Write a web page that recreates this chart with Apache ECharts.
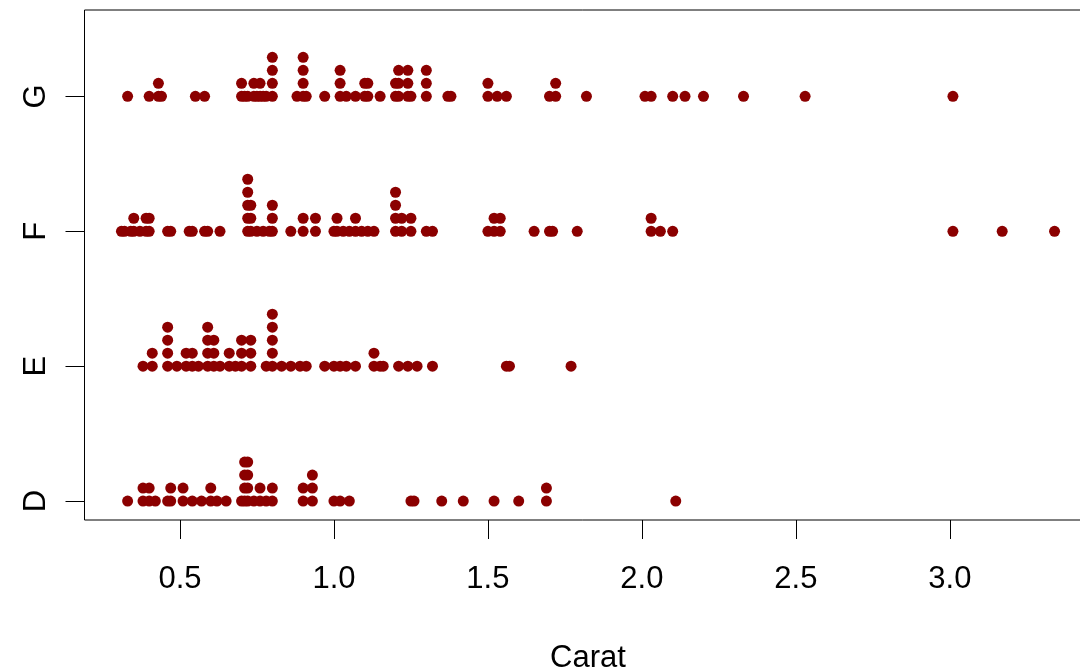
<!DOCTYPE html>
<html><head><meta charset="utf-8">
<script src="https://cdn.jsdelivr.net/npm/echarts@6/dist/echarts.min.js"></script>
<style>html,body{margin:0;padding:0;background:#fff}#c{width:1080px;height:671px}</style>
</head><body><div id="c"></div>
<script>
const categories = ['D', 'E', 'F', 'G'];
const xTicks = [0.5, 1.0, 1.5, 2.0, 2.5, 3.0];

const caratD = [0.33, 0.38, 0.38, 0.40, 0.40, 0.42, 0.46, 0.47, 0.47, 0.51, 0.51, 0.54, 0.57, 0.60, 0.60, 0.62, 0.65,
  0.70, 0.71, 0.71, 0.71, 0.71, 0.72, 0.72, 0.72, 0.72, 0.74, 0.76, 0.76, 0.78, 0.80, 0.80,
  0.90, 0.90, 0.93, 0.93, 0.93, 1.00, 1.02, 1.05, 1.25, 1.26, 1.35, 1.42, 1.52, 1.60, 1.69, 1.69, 2.11];

const caratE = [0.38, 0.41, 0.41, 0.46, 0.46, 0.46, 0.46, 0.49, 0.52, 0.52, 0.54, 0.54, 0.56,
  0.59, 0.59, 0.59, 0.59, 0.61, 0.61, 0.61, 0.63, 0.66, 0.66, 0.68, 0.70, 0.70, 0.70,
  0.73, 0.73, 0.73, 0.78, 0.80, 0.80, 0.80, 0.80, 0.80, 0.83, 0.86, 0.89, 0.91,
  0.97, 1.00, 1.02, 1.04, 1.07, 1.13, 1.13, 1.15, 1.16, 1.21, 1.24, 1.27, 1.32, 1.56, 1.57, 1.77];

const caratF = [0.31, 0.32, 0.34, 0.35, 0.35, 0.37, 0.39, 0.39, 0.40, 0.40, 0.46, 0.47,
  0.53, 0.54, 0.58, 0.59, 0.63,
  0.72, 0.72, 0.72, 0.72, 0.72, 0.73, 0.73, 0.73, 0.75, 0.77, 0.79, 0.80, 0.80, 0.80,
  0.86, 0.90, 0.90, 0.94, 0.94,
  1.00, 1.01, 1.01, 1.03, 1.05, 1.07, 1.07, 1.09, 1.11, 1.13,
  1.20, 1.20, 1.20, 1.20, 1.22, 1.22, 1.25, 1.25, 1.30, 1.32,
  1.50, 1.52, 1.52, 1.54, 1.54, 1.65, 1.70, 1.71, 1.79, 2.03, 2.03, 2.06, 2.10, 3.01, 3.17, 3.34];

const caratG = [0.33, 0.40, 0.43, 0.43, 0.44, 0.55, 0.58,
  0.70, 0.70, 0.71, 0.72, 0.74, 0.74, 0.75, 0.76, 0.76, 0.77, 0.78, 0.80, 0.80, 0.80, 0.80,
  0.88, 0.90, 0.90, 0.90, 0.90, 0.91, 0.97,
  1.02, 1.02, 1.02, 1.04, 1.07, 1.10, 1.10, 1.11, 1.11, 1.15,
  1.20, 1.20, 1.21, 1.21, 1.21, 1.24, 1.24, 1.24, 1.25, 1.30, 1.30, 1.30, 1.37, 1.38,
  1.50, 1.50, 1.53, 1.56, 1.70, 1.72, 1.72, 1.82, 2.01, 2.03, 2.10, 2.14, 2.20, 2.33, 2.53, 3.01];

const groups = [caratD, caratE, caratF, caratG];
const STACK_STEP = 0.0964;

function stackPoints(vals, idx) {
  const count = {};
  return vals.map(v => {
    const k = v.toFixed(2);
    const n = count[k] || 0;
    count[k] = n + 1;
    return [v, idx + 1 + n * STACK_STEP];
  });
}

const FONT = "'Liberation Sans', Arial, Helvetica, sans-serif";
const chart = echarts.init(document.getElementById('c'), null, {renderer: 'canvas'});
chart.setOption({
  animation: false,
  backgroundColor: '#ffffff',
  grid: {left: 84.5, top: 10, width: 1007, height: 510, show: true, borderColor: '#000', borderWidth: 1,
    backgroundColor: 'transparent', containLabel: false, outerBoundsMode: 'none'},
  xAxis: {
    type: 'value', min: 0.19, max: 3.46,
    axisLine: {show: false},
    splitLine: {show: false},
    axisTick: {show: true, customValues: xTicks, length: 19, lineStyle: {color: '#000', width: 1}},
    axisLabel: {customValues: xTicks, formatter: v => Number(v).toFixed(1), color: '#000', fontSize: 31, fontFamily: FONT, margin: 44},
    name: 'Carat', nameLocation: 'middle', nameGap: 123,
    nameTextStyle: {color: '#000', fontSize: 31, fontFamily: FONT}
  },
  yAxis: {
    type: 'value', min: 0.86, max: 4.64,
    axisLine: {show: false},
    splitLine: {show: false},
    axisTick: {show: true, customValues: [1, 2, 3, 4], length: 19, lineStyle: {color: '#000', width: 1}},
    axisLabel: {customValues: [1, 2, 3, 4], formatter: v => categories[Math.round(v) - 1], rotate: 90, color: '#000', fontSize: 31, fontFamily: FONT, margin: 33}
  },
  series: groups.map((g, i) => ({
    type: 'scatter',
    name: categories[i],
    data: stackPoints(g, i),
    symbol: 'circle',
    symbolSize: 11,
    itemStyle: {color: '#8B0000', opacity: 1},
    emphasis: {disabled: true},
    silent: true
  }))
});
</script></body></html>
